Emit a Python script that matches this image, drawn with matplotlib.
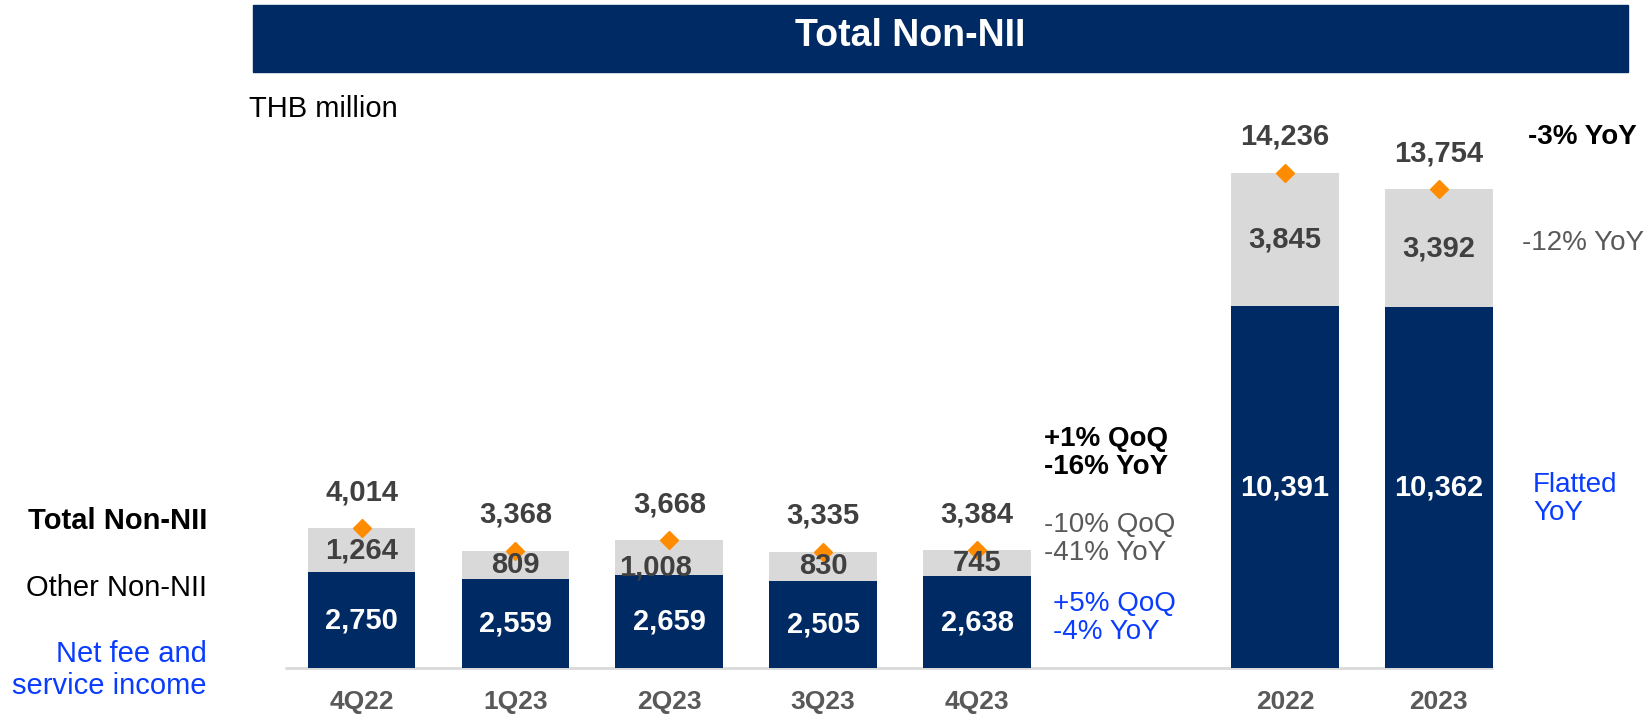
import matplotlib
matplotlib.use("Agg")
import matplotlib.pyplot as plt
from matplotlib.patches import Rectangle

plt.rcParams['font.family'] = ['Liberation Sans', 'DejaVu Sans']

# ---- data ----
categories = ["4Q22", "1Q23", "2Q23", "3Q23", "4Q23", "2022", "2023"]
net_fee = [2750, 2559, 2659, 2505, 2638, 10391, 10362]
other_non_nii = [1264, 809, 1008, 830, 745, 3845, 3392]
total_non_nii = [4014, 3368, 3668, 3335, 3384, 14236, 13754]
title = "Total Non-NII"
unit_label = "THB million"
legend_labels = ["Total Non-NII", "Other Non-NII", "Net fee and\nservice income"]
growth_quarter = [["+1% QoQ", "-16% YoY"], ["-10% QoQ", "-41% YoY"], ["+5% QoQ", "-4% YoY"]]
growth_year = ["-3% YoY", "-12% YoY", "Flatted\nYoY"]

# ---- style ----
NAVY = "#002A64"
LGRAY = "#D9D9D9"
ORANGE = "#FF8C00"
DGRAY = "#404040"
MGRAY = "#595959"
BLUE = "#0A3CFF"

W, H = 1650, 718
fig = plt.figure(figsize=(W / 100, H / 100), dpi=100)
ax = fig.add_axes([0, 0, 1, 1])
ax.axis("off")

unit_px = 153.9
x0_px = 361.5
base_px = 668
val_per_px = 28.74
ax.set_xlim(-x0_px / unit_px, (W - x0_px) / unit_px)
ax.set_ylim(-(H - base_px) * val_per_px, base_px * val_per_px)

positions = [0, 1, 2, 3, 4, 6, 7]
bw = 0.70

ax.bar(positions, net_fee, width=bw, color=NAVY, zorder=2)
ax.bar(positions, other_non_nii, width=bw, bottom=net_fee, color=LGRAY, zorder=2)
ax.hlines(0, -0.5, 7.35, color=LGRAY, lw=2, zorder=1)
ax.plot(positions, total_non_nii, linestyle="none", marker="D", ms=9,
        color=ORANGE, zorder=4)

FS = 21
nudge = {2: (-14, -10)}  # pixel nudge for crowded label
for i, (p, nf, ot, tt) in enumerate(zip(positions, net_fee, other_non_nii, total_non_nii)):
    ax.text(p, nf / 2, f"{nf:,}", ha="center", va="center", color="white",
            fontsize=FS, fontweight="bold", zorder=5)
    dx, dy = nudge.get(i, (0, 0))
    ax.annotate(f"{ot:,}", (p, nf + ot / 2), xytext=(dx, dy), textcoords="offset pixels",
                ha="center", va="center", color=DGRAY, fontsize=FS, fontweight="bold", zorder=5)
    ax.annotate(f"{tt:,}", (p, tt), xytext=(0, 36), textcoords="offset pixels",
                ha="center", va="center", color=DGRAY, fontsize=FS, fontweight="bold", zorder=5)
    ax.annotate(categories[i], (p, 0), xytext=(0, -34), textcoords="offset pixels",
                ha="center", va="center", color=MGRAY, fontsize=19, fontweight="bold")


def px(x, y):
    return x / W, 1 - y / H


# title banner
fig.patches.append(Rectangle(px(253, 72), (1628 - 253) / W, (72 - 5) / H,
                             transform=fig.transFigure, color=NAVY, zorder=0))
fig.text(*px(910, 36), title, ha="center", va="center", color="white",
         fontsize=27, fontweight="bold")
fig.text(*px(249, 109), unit_label, ha="left", va="center", color="black", fontsize=21)

# left legend labels
fig.text(*px(207, 521), legend_labels[0], ha="right", va="center", color="black",
         fontsize=21, fontweight="bold")
fig.text(*px(207, 588), legend_labels[1], ha="right", va="center", color="black", fontsize=21)
fig.text(*px(207, 670), legend_labels[2], ha="right", va="center", color=BLUE, fontsize=21,
         linespacing=1.22)

# quarterly growth notes
fig.text(*px(1044, 453), "\n".join(growth_quarter[0]), ha="left", va="center",
         color="black", fontsize=20, fontweight="bold", linespacing=1.1)
fig.text(*px(1044, 539), "\n".join(growth_quarter[1]), ha="left", va="center",
         color=MGRAY, fontsize=20, linespacing=1.1)
fig.text(*px(1053, 618), "\n".join(growth_quarter[2]), ha="left", va="center",
         color=BLUE, fontsize=20, linespacing=1.1)

# yearly growth notes
fig.text(*px(1528, 137), growth_year[0], ha="left", va="center", color="black",
         fontsize=20, fontweight="bold")
fig.text(*px(1522, 243), growth_year[1], ha="left", va="center", color=MGRAY, fontsize=20)
fig.text(*px(1533, 499), growth_year[2], ha="left", va="center", color=BLUE, fontsize=20,
         linespacing=1.1)

fig.savefig("out.png", dpi=100)
